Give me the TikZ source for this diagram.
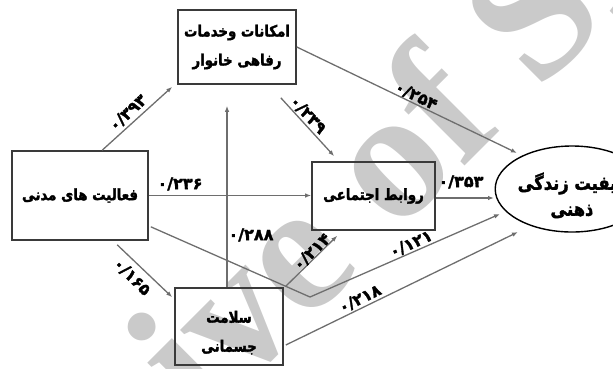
\documentclass[tikz,border=0pt]{standalone}
\usepackage{fontspec}
\setmainfont{DejaVu Sans}
\newfontfamily\boxfont[Script=Arabic,FakeBold=2,FakeStretch=0.86]{DejaVu Sans Bold}
\newfontfamily\labfont[Script=Arabic,FakeBold=2]{DejaVu Sans Bold}
\newfontfamily\wmfont{Liberation Serif Bold}
\TeXXeTstate=1
\usetikzlibrary{arrows.meta,shapes.geometric}
\definecolor{linec}{HTML}{6E6E6E}
\definecolor{boxc}{HTML}{3A3A3A}
\definecolor{wmc}{HTML}{CACACA}
\begin{document}
\begin{tikzpicture}[x=1pt,y=-1pt,
  box/.style={draw=boxc,line width=1.6pt,inner sep=0pt,align=center,
    font=\boxfont\fontsize{15.5}{29}\selectfont},
  oval/.style={ellipse,draw=black,line width=1.4pt,inner sep=0pt,align=center,
    font=\boxfont\fontsize{19}{26}\selectfont},
  arr/.style={draw=linec,line width=1.3pt,-{Latex[length=6pt,width=4.5pt]}},
  lab/.style={inner sep=0pt,font=\labfont\fontsize{16}{16}\selectfont},
  wm/.style={inner sep=0pt,anchor=base west,rotate=45,text=wmc,
    font=\wmfont\fontsize{185}{185}\selectfont}
]
\useasboundingbox (0,0) rectangle (613,368);
\begin{scope}
\clip (0,0) rectangle (613,368);
\node[wm] (wm) at (-77,708) {Archive of SID};
\end{scope}

% boxes
\node[box,minimum width=118pt,minimum height=74pt] (A) at (237,47)
  {\beginR امکانات وخدمات\endR\\\beginR رفاهی خانوار\endR};
\node[box,minimum width=136pt,minimum height=89pt] (B) at (80,195.5)
  {\beginR فعالیت های مدنی\endR};
\node[box,minimum width=123pt,minimum height=68pt] (C) at (373.5,196)
  {\beginR روابط اجتماعی\endR};
\node[box,minimum width=108pt,minimum height=77pt] (D) at (229,326.5)
  {\rule{0pt}{24pt}\beginR سلامت\endR\\\beginR جسمانی\endR};
\begin{scope}
\clip (0,0) rectangle (613,368);
\node[oval,minimum width=140pt,minimum height=86pt] (E) at (572,189)
  {\rule{0pt}{30pt}\beginR کیفیت زندگی\endR\\\beginR ذهنی\endR};
\end{scope}

\coordinate (k) at (310,297);

% connectors
\draw[arr] ([shift={(91,0)}]B.north west) -- ([shift={(-5,2)}]A.south west);
\draw[arr] (B.east) -- (B.east -| C.west);
\draw[arr] ([shift={(106,4)}]B.south west) -- ([shift={(-2,10)}]D.north west);
\draw[arr] ([shift={(2,-14)}]B.south east) -- (k) -- ([shift={(-72,25)}]E.center);
\draw[arr] ([shift={(-2,0)}]D.north) -- ([shift={(-10,21)}]A.south);
\draw[arr] ([shift={(-16,13)}]A.south east) -- ([shift={(23,-5)}]C.north west);
\draw[arr] (A.east) -- ([shift={(-55,-36)}]E.center);
\draw[arr] ([shift={(0,2)}]C.east) -- ([shift={(-78,9)}]E.center);
\draw[arr] ([shift={(2,-1)}]D.north east) -- ([shift={(26,5)}]C.south west);
\draw[arr] ([shift={(2,18.5)}]D.east) -- ([shift={(-54,43)}]E.center);

% labels
\node[lab,rotate=43] (l1) at (128,113) {۰/۳۹۳};
\node[lab] (l2) at (180,184) {۰/۲۳۶};
\node[lab,rotate=-45] (l3) at (132,277) {۰/۱۶۵};
\node[lab,rotate=24] (l4) at (411,244) {۰/۱۲۱};
\node[lab] (l5) at (251,235) {۰/۲۸۸};
\node[lab,rotate=-47] (l6) at (308,115) {۰/۲۳۹};
\node[lab,rotate=-26] (l7) at (416,96) {۰/۲۵۴};
\node[lab] (l8) at (461,182) {۰/۳۵۳};
\node[lab,rotate=44] (l9) at (312,252) {۰/۲۱۴};
\node[lab,rotate=26] (l10) at (360,299) {۰/۲۱۸};
\end{tikzpicture}
\end{document}
